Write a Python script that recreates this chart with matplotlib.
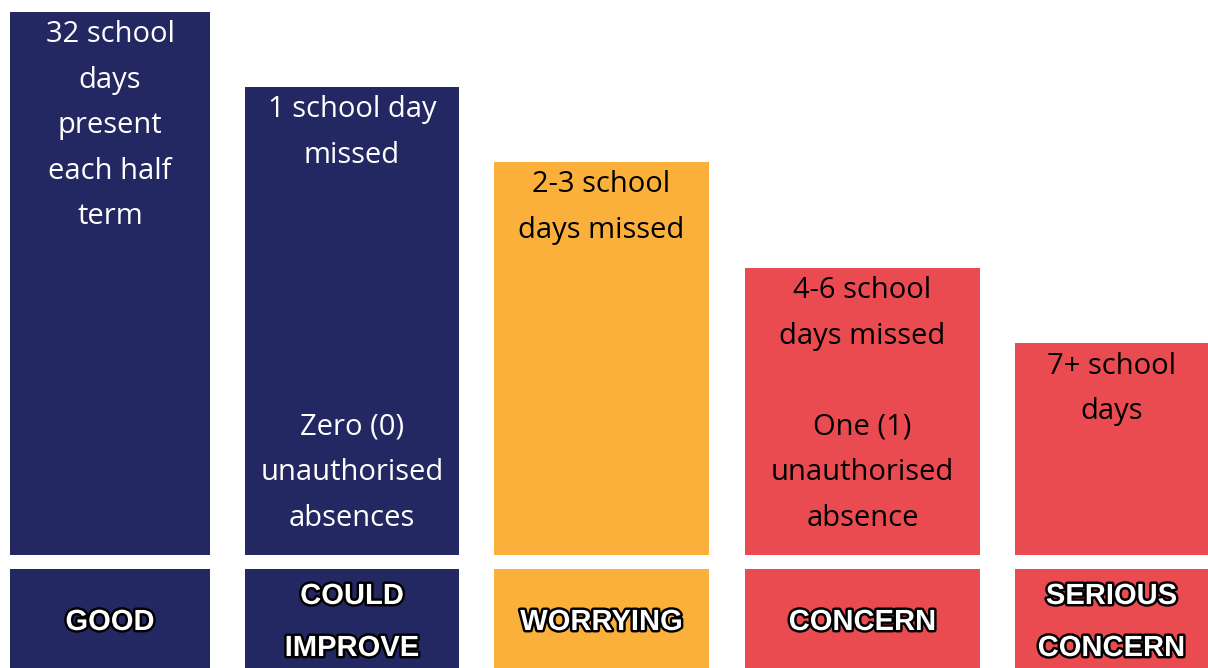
import matplotlib.pyplot as plt
import matplotlib.patheffects as pe

# attendance levels (bar height in relative units, baseline = 0)
levels = ["GOOD", "COULD\nIMPROVE", "WORRYING", "CONCERN", "SERIOUS\nCONCERN"]
heights = [543, 468, 393, 287, 212]
top_text = [
    "32 school\ndays\npresent\neach half\nterm",
    "1 school day\nmissed",
    "2-3 school\ndays missed",
    "4-6 school\ndays missed",
    "7+ school\ndays",
]
bottom_text = ["", "Zero (0)\nunauthorised\nabsences", "", "One (1)\nunauthorised\nabsence", ""]

# layout
lefts = [10, 245, 494, 745, 1015]
widths = [200, 214, 215, 235, 193]
navy, orange, red = "#232862", "#FBB03C", "#E94B50"
colors = [navy, navy, orange, red, red]
text_colors = ["white", "white", "black", "black", "black"]

fig = plt.figure(figsize=(12.08, 6.68), dpi=100)
ax = fig.add_axes([0, 0, 1, 1])
ax.set_xlim(0, 1208)
ax.set_ylim(-113, 555)
ax.axis("off")

ax.bar(lefts, heights, width=widths, align="edge", color=colors)
ax.bar(lefts, [-99] * 5, bottom=-14, width=widths, align="edge", color=colors)

font = "Open Sans"
fs = 21
step = 45.5
for x, w, h, tt, bt, tc in zip(lefts, widths, heights, top_text, bottom_text, text_colors):
    cx = x + w / 2
    for i, line in enumerate(tt.split("\n")):
        ax.text(cx, h - 23 - step * i, line, ha="center", va="center",
                fontsize=fs, color=tc, family=font)
    lines = bt.split("\n") if bt else []
    n = len(lines)
    for i, line in enumerate(lines):
        ax.text(cx, 37 + step * (n - 1 - i), line, ha="center", va="center",
                fontsize=fs, color=tc, family=font)

stroke = [pe.withStroke(linewidth=3.5, foreground="black")]
for x, w, lab in zip(lefts, widths, levels):
    cx = x + w / 2
    lines = lab.split("\n")
    n = len(lines)
    for i, line in enumerate(lines):
        y = -67 + 26 * (n - 1) - 52 * i
        ax.text(cx, y, line, ha="center", va="center", fontsize=21,
                fontweight="bold", color="white", family="Liberation Sans",
                path_effects=stroke)

fig.savefig("out.png", dpi=100)
